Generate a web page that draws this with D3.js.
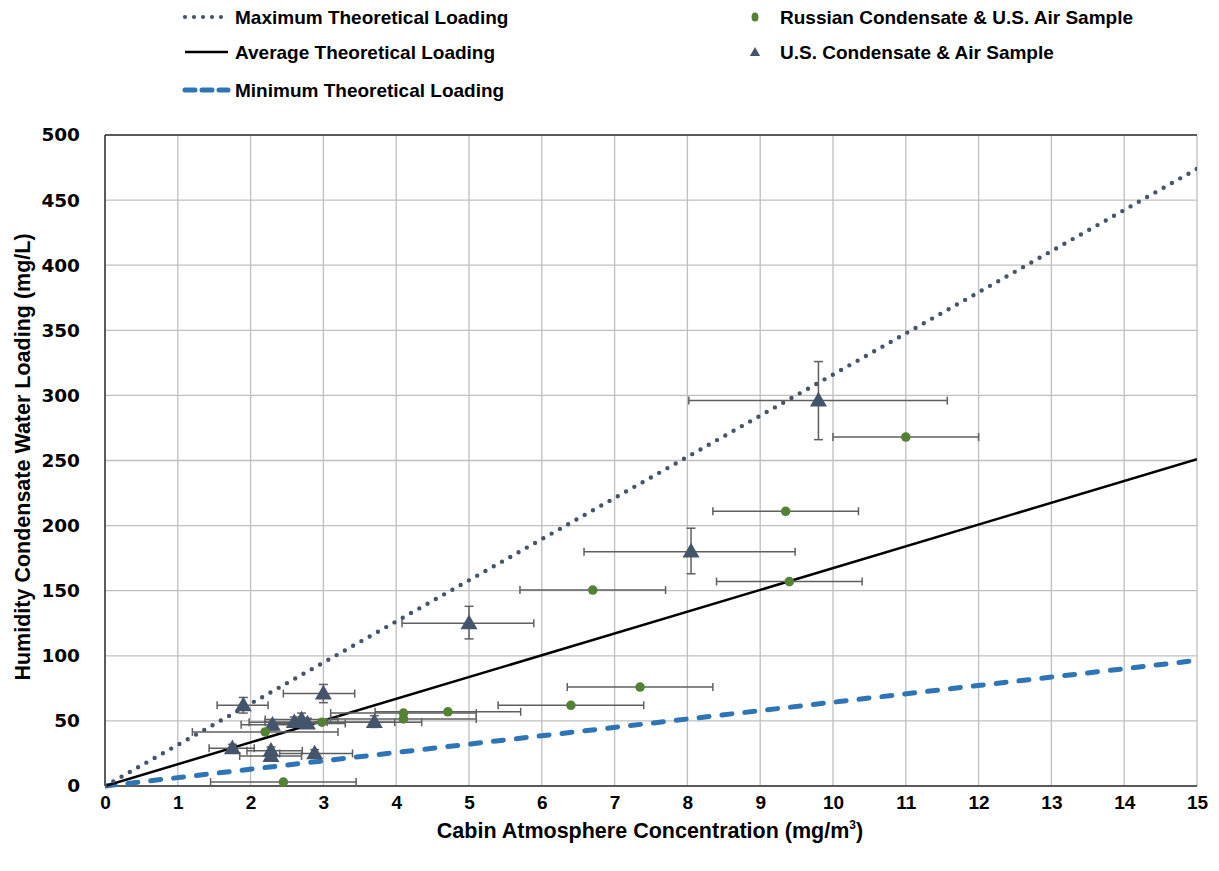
<!DOCTYPE html>
<html>
<head>
<meta charset="utf-8">
<script src="https://cdn.jsdelivr.net/npm/d3@7"></script>
<style>
  html, body { margin: 0; padding: 0; background: #fff; }
  svg { display: block; }
</style>
</head>
<body>
<svg id="chart" width="1219" height="871"></svg>
<script>
// ---------- DATA ----------
const xTicks = [0,1,2,3,4,5,6,7,8,9,10,11,12,13,14,15];
const yTicks = [0,50,100,150,200,250,300,350,400,450,500];

// Theoretical loading lines (endpoints, mg/m3 -> mg/L)
const lineX = [0, 15];
const maxLoading = [0, 474];
const avgLoading = [0, 251];
const minLoading = [0, 96.5];

// Russian Condensate & U.S. Air Sample
const ruX    = [11.0, 9.35, 9.4, 6.7, 7.35, 6.4, 4.71, 4.1, 4.1, 2.98, 2.2, 2.45];
const ruY    = [268, 211, 157, 150.5, 76, 62, 57, 56, 51.5, 49, 41.5, 3];
const ruXLo  = [10.0, 8.35, 8.4, 5.7, 6.35, 5.4, 3.71, 3.1, 3.1, 1.98, 1.2, 1.45];
const ruXHi  = [12.0, 10.35, 10.4, 7.7, 8.35, 7.4, 5.71, 5.1, 5.1, 3.98, 3.2, 3.45];

// U.S. Condensate & Air Sample
const usX    = [9.8, 8.05, 5.0, 3.0, 1.9, 2.3, 2.6, 2.7, 2.78, 3.7, 1.75, 2.28, 2.28, 2.88];
const usY    = [296, 180, 125, 71, 62, 47, 49, 51, 48, 49, 29, 27, 23, 25];
const usXLo  = [8.02, 6.58, 4.08, 2.45, 1.54, 1.87, 2.2, 2.2, 2.3, 3.05, 1.43, 1.95, 1.85, 2.4];
const usXHi  = [11.57, 9.48, 5.89, 3.43, 2.24, 2.7, 3.0, 3.2, 3.3, 4.35, 2.05, 2.71, 2.7, 3.4];
const usYLo  = [266, 163, 113, 64, 56, 43, 46, 47, 45, 45, 26, 24, 20, 22];
const usYHi  = [326, 198, 138, 78, 68, 51, 53, 56, 52, 54, 32, 30, 26, 28];

const legendLines = ["Maximum Theoretical Loading", "Average Theoretical Loading", "Minimum Theoretical Loading"];
const legendMarkers = ["Russian Condensate & U.S. Air Sample", "U.S. Condensate & Air Sample"];
const xTitle = "Cabin Atmosphere Concentration (mg/m";
const yTitle = "Humidity Condensate Water Loading (mg/L)";

// ---------- STYLE ----------
const C_MAX = "#44546a", C_AVG = "#000000", C_MIN = "#2e75b6";
const C_RU = "#548235", C_US = "#44546a", C_ERR = "#5f5f5f", C_GRID = "#bfbfbf";
const FONT = "'Liberation Sans', Arial, sans-serif";

const svg = d3.select("#chart");
const m = {left: 105, right: 1197, top: 135, bottom: 786};
const x = d3.scaleLinear().domain([0, 15]).range([m.left, m.right]);
const y = d3.scaleLinear().domain([0, 500]).range([m.bottom, m.top]);

// gridlines
const g = svg.append("g");
g.selectAll("line.vx").data(xTicks).join("line")
  .attr("x1", d => x(d)).attr("x2", d => x(d))
  .attr("y1", m.top).attr("y2", m.bottom)
  .attr("stroke", C_GRID).attr("stroke-width", 1.3);
g.selectAll("line.hy").data(yTicks).join("line")
  .attr("y1", d => y(d)).attr("y2", d => y(d))
  .attr("x1", m.left).attr("x2", m.right)
  .attr("stroke", C_GRID).attr("stroke-width", 1.3);
// frame
svg.append("line").attr("x1", m.left).attr("x2", m.left).attr("y1", m.top).attr("y2", m.bottom).attr("stroke", "#333").attr("stroke-width", 1.5);
svg.append("line").attr("x1", m.left).attr("x2", m.right).attr("y1", m.bottom).attr("y2", m.bottom).attr("stroke", "#333").attr("stroke-width", 1.5);
svg.append("line").attr("x1", m.left).attr("x2", m.right).attr("y1", m.top).attr("y2", m.top).attr("stroke", "#333").attr("stroke-width", 1.5);

// axes labels via d3 axes
const xAxis = d3.axisBottom(x).tickValues(xTicks).tickSize(0).tickPadding(10);
const xg = svg.append("g").attr("transform", `translate(0,${m.bottom})`).call(xAxis);
xg.select(".domain").remove();
xg.selectAll("text").attr("font-family", FONT).attr("font-weight", "bold").attr("font-size", 19).attr("fill", "#000");

const yAxis = d3.axisLeft(y).tickValues(yTicks).tickSize(0).tickPadding(25);
const yg = svg.append("g").attr("transform", `translate(${m.left},0)`).call(yAxis);
yg.select(".domain").remove();
yg.selectAll("text").attr("font-family", "'DejaVu Sans', Verdana, sans-serif").attr("font-weight", "bold").attr("font-size", 18.5).attr("fill", "#000");

// titles
const xt = svg.append("text").attr("x", 650).attr("y", 838).attr("text-anchor", "middle")
  .attr("font-family", FONT).attr("font-weight", "bold").attr("font-size", 21.5).attr("fill", "#000");
xt.append("tspan").text(xTitle);
xt.append("tspan").text("3").attr("font-size", 12).attr("dy", -9);
xt.append("tspan").text(")").attr("dy", 9);

svg.append("text").attr("transform", `translate(30,457) rotate(-90)`).attr("text-anchor", "middle")
  .attr("font-family", FONT).attr("font-weight", "bold").attr("font-size", 21.5).attr("fill", "#000")
  .text(yTitle);

// theoretical lines
const lineGen = d3.line().x(d => x(d[0])).y(d => y(d[1]));
svg.append("clipPath").attr("id", "plotclip").append("rect")
  .attr("x", m.left).attr("y", m.top).attr("width", m.right - m.left).attr("height", m.bottom - m.top + 4);
const lines = svg.append("g").attr("clip-path", "url(#plotclip)");
lines.append("path").attr("d", lineGen(d3.zip(lineX, minLoading)))
  .attr("fill", "none").attr("stroke", C_MIN).attr("stroke-width", 5)
  .attr("stroke-dasharray", "10 13").attr("stroke-linecap", "round");
lines.append("path").attr("d", lineGen(d3.zip(lineX, avgLoading)))
  .attr("fill", "none").attr("stroke", C_AVG).attr("stroke-width", 2.5);
lines.append("path").attr("d", lineGen(d3.zip(lineX, maxLoading)))
  .attr("fill", "none").attr("stroke", C_MAX).attr("stroke-width", 4.4)
  .attr("stroke-dasharray", "0 9.5").attr("stroke-linecap", "round");

// error bars
const eb = svg.append("g").attr("stroke", C_ERR).attr("stroke-width", 1.5).attr("fill", "none");
function hBar(yv, lo, hi) {
  eb.append("line").attr("x1", x(lo)).attr("x2", x(hi)).attr("y1", y(yv)).attr("y2", y(yv));
  eb.append("line").attr("x1", x(lo)).attr("x2", x(lo)).attr("y1", y(yv) - 4).attr("y2", y(yv) + 4);
  eb.append("line").attr("x1", x(hi)).attr("x2", x(hi)).attr("y1", y(yv) - 4).attr("y2", y(yv) + 4);
}
function vBar(xv, lo, hi) {
  eb.append("line").attr("x1", x(xv)).attr("x2", x(xv)).attr("y1", y(lo)).attr("y2", y(hi));
  eb.append("line").attr("x1", x(xv) - 4.5).attr("x2", x(xv) + 4.5).attr("y1", y(lo)).attr("y2", y(lo));
  eb.append("line").attr("x1", x(xv) - 4.5).attr("x2", x(xv) + 4.5).attr("y1", y(hi)).attr("y2", y(hi));
}
ruX.forEach((d, i) => hBar(ruY[i], ruXLo[i], ruXHi[i]));
usX.forEach((d, i) => { hBar(usY[i], usXLo[i], usXHi[i]); vBar(usX[i], usYLo[i], usYHi[i]); });

// markers
const tri = d3.symbol().type(d3.symbolTriangle).size(125);
svg.append("g").selectAll("path").data(d3.range(usX.length)).join("path")
  .attr("d", tri).attr("transform", i => `translate(${x(usX[i])},${y(usY[i]) + 1})`)
  .attr("fill", C_US);
svg.append("g").selectAll("circle").data(d3.range(ruX.length)).join("circle")
  .attr("cx", i => x(ruX[i])).attr("cy", i => y(ruY[i])).attr("r", 4.8)
  .attr("fill", C_RU);

// legend
const legY = [17, 52, 90];
const leg = svg.append("g");
const legStyles = [
  {stroke: C_MAX, w: 4.2, dash: "0 9", cap: "round"},
  {stroke: C_AVG, w: 2.5, dash: null, cap: "butt"},
  {stroke: C_MIN, w: 5, dash: "10 7", cap: "round"}
];
legendLines.forEach((t, i) => {
  const s = legStyles[i];
  leg.append("line").attr("x1", 185).attr("x2", 228).attr("y1", legY[i]).attr("y2", legY[i])
    .attr("stroke", s.stroke).attr("stroke-width", s.w)
    .attr("stroke-dasharray", s.dash).attr("stroke-linecap", s.cap);
  leg.append("text").attr("x", 235).attr("y", legY[i] + 7)
    .attr("font-family", FONT).attr("font-weight", "bold").attr("font-size", 19).attr("fill", "#000").text(t);
});
leg.append("ellipse").attr("cx", 755).attr("cy", legY[0]).attr("rx", 3.5).attr("ry", 4.5).attr("fill", C_RU);
leg.append("path").attr("d", d3.symbol().type(d3.symbolTriangle).size(45)).attr("transform", `translate(755,${legY[1] + 1})`).attr("fill", C_US);
legendMarkers.forEach((t, i) => {
  leg.append("text").attr("x", 780).attr("y", legY[i] + 7)
    .attr("font-family", FONT).attr("font-weight", "bold").attr("font-size", 19).attr("fill", "#000").text(t);
});
</script>
</body>
</html>
